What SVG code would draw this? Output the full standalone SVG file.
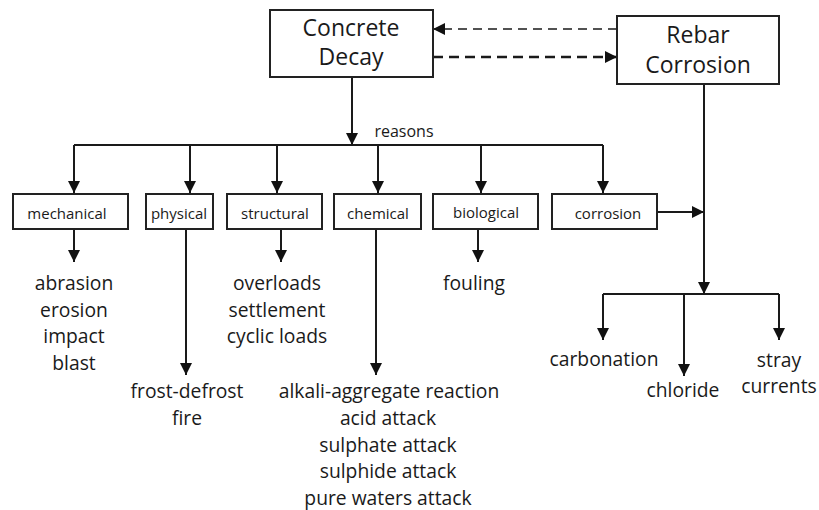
<svg xmlns="http://www.w3.org/2000/svg" width="819" height="510" viewBox="0 0 819 510">
<style>
.box{fill:#fff;stroke:#222;stroke-width:2}
.ln{fill:none;stroke:#1a1a1a;stroke-width:2}
.arr{marker-end:url(#ah)}
text{font-family:"Open Sans","Noto Sans",sans-serif;fill:#1a1a1a;text-anchor:middle}
.big{font-size:23px}
.lab{font-size:15px}
.item{font-size:19.3px}
</style>
<defs>
<marker id="ah" markerUnits="userSpaceOnUse" markerWidth="12" markerHeight="12" refX="12" refY="6" orient="auto">
<path d="M0,0 L12,6 L0,12 z" fill="#111"/>
</marker>
</defs>
<rect width="819" height="510" fill="#fff"/>
<g id="connectors">
<path class="ln arr" d="M617,29 H433" stroke-dasharray="9,6" style="stroke-width:1.6"/>
<path class="ln arr" d="M433,57 H617" stroke-dasharray="10,6" style="stroke-width:2.6"/>
<path class="ln arr" d="M352,77 V145"/>
<path class="ln" d="M74,145 H603"/>
<path class="ln arr" d="M74,145 V193"/>
<path class="ln arr" d="M190,145 V193"/>
<path class="ln arr" d="M277,145 V193"/>
<path class="ln arr" d="M378,145 V193"/>
<path class="ln arr" d="M481,145 V193"/>
<path class="ln arr" d="M603,145 V193"/>
<path class="ln arr" d="M74,229 V262"/>
<path class="ln arr" d="M186,229 V375"/>
<path class="ln arr" d="M281,229 V262"/>
<path class="ln arr" d="M376,229 V375"/>
<path class="ln arr" d="M478,229 V262"/>
<path class="ln arr" d="M657,212 H704"/>
<path class="ln arr" d="M704,84 V294"/>
<path class="ln" d="M603,294 H779"/>
<path class="ln arr" d="M603,294 V340"/>
<path class="ln arr" d="M684,294 V376"/>
<path class="ln arr" d="M779,294 V340"/>
</g>
<g id="concrete-decay">
<rect class="box" x="270" y="10" width="163" height="67"/>
<text class="big" x="351" y="36">Concrete</text>
<text class="big" x="351" y="65">Decay</text>
</g>
<g id="rebar-corrosion">
<rect class="box" x="617" y="16" width="162" height="68"/>
<text class="big" x="698" y="43">Rebar</text>
<text class="big" x="698" y="73">Corrosion</text>
</g>
<g id="reasons">
<text x="404" y="137" style="font-size:16px">reasons</text>
</g>
<g id="mechanical">
<rect class="box" x="13" y="194" width="115" height="35"/>
<text class="lab" x="67" y="219">mechanical</text>
</g>
<g id="physical">
<rect class="box" x="146" y="194" width="67" height="35"/>
<text class="lab" x="179" y="219">physical</text>
</g>
<g id="structural">
<rect class="box" x="227" y="194" width="95" height="35"/>
<text class="lab" x="275" y="219">structural</text>
</g>
<g id="chemical">
<rect class="box" x="334" y="194" width="87" height="35"/>
<text class="lab" x="378" y="219">chemical</text>
</g>
<g id="biological">
<rect class="box" x="433" y="194" width="105" height="35"/>
<text class="lab" x="486" y="218">biological</text>
</g>
<g id="corrosion">
<rect class="box" x="552" y="194" width="105" height="35"/>
<text class="lab" x="608" y="219">corrosion</text>
</g>
<g id="mechanical-items">
<text class="item" x="74" y="290">abrasion</text>
<text class="item" x="74" y="317">erosion</text>
<text class="item" x="74" y="343">impact</text>
<text class="item" x="74" y="370">blast</text>
</g>
<g id="physical-items">
<text class="item" x="187" y="398">frost-defrost</text>
<text class="item" x="187" y="425">fire</text>
</g>
<g id="structural-items">
<text class="item" x="277" y="290">overloads</text>
<text class="item" x="277" y="317">settlement</text>
<text class="item" x="277" y="343">cyclic loads</text>
</g>
<g id="chemical-items">
<text class="item" x="389" y="398">alkali-aggregate reaction</text>
<text class="item" x="388" y="425">acid attack</text>
<text class="item" x="388" y="452">sulphate attack</text>
<text class="item" x="388" y="478">sulphide attack</text>
<text class="item" x="388" y="505">pure waters attack</text>
</g>
<g id="biological-items">
<text class="item" x="474" y="290">fouling</text>
</g>
<g id="carbonation">
<text class="item" x="604" y="366">carbonation</text>
</g>
<g id="chloride">
<text class="item" x="683" y="397">chloride</text>
</g>
<g id="stray-currents">
<text class="item" x="779" y="367">stray</text>
<text class="item" x="779" y="393">currents</text>
</g>
</svg>
